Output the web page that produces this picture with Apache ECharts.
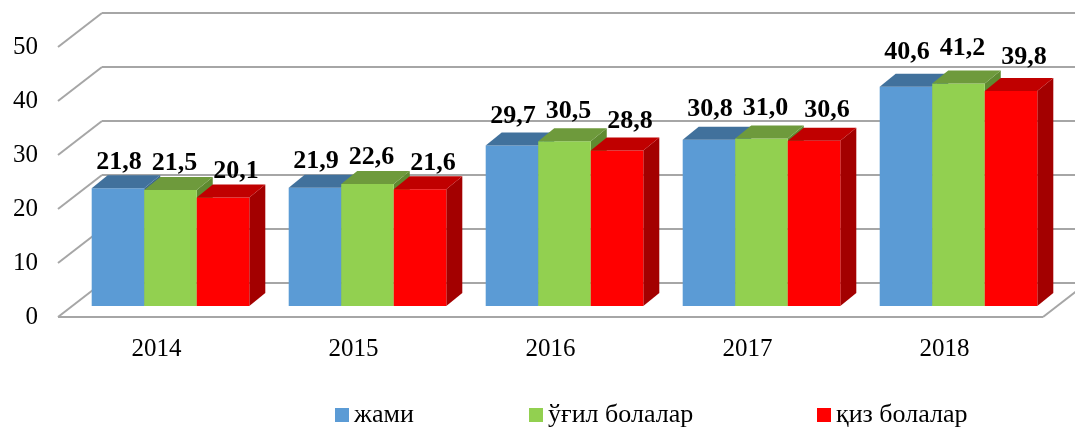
<!DOCTYPE html>
<html><head><meta charset="utf-8">
<script src="https://cdn.jsdelivr.net/npm/echarts@6/dist/echarts.min.js"></script>
<style>html,body{margin:0;padding:0;background:#fff}#c{width:1075px;height:427px}</style>
</head><body><div id="c"></div>
<script>
// ---- data ----
const categories = ['2014', '2015', '2016', '2017', '2018'];
const seriesNames = ['жами', 'ўғил болалар', 'қиз болалар'];
const jami = [21.8, 21.9, 29.7, 30.8, 40.6];
const ugil = [21.5, 22.6, 30.5, 31.0, 41.2];
const qiz  = [20.1, 21.6, 28.8, 30.6, 39.8];
const yTicks = [0, 10, 20, 30, 40, 50];

// ---- styling / pseudo-3D geometry ----
const FONT = '"Liberation Serif", "Times New Roman", serif';
const WALL_DX = 44, WALL_DY = -34;     // full depth of the chart box
const FRONT_DX = 14, FRONT_DY = -11;   // bar front plane offset
const BAR_DX = 16, BAR_DY = -13;       // bar depth
const GRID_COLOR = '#a6a6a6';
const palettes = [
  { front: '#5b9bd5', top: '#41719c', side: '#3a6690', labelDx: 1 },
  { front: '#92d050', top: '#6e9a3c', side: '#5f8a30', labelDx: 4 },
  { front: '#ff0000', top: '#c00000', side: '#a30000', labelDx: 13 }
];
const fmt = v => v.toFixed(1).replace('.', ',');

function barRender(s) {
  const pal = palettes[s];
  return function (params, api) {
    const ci = api.value(0), v = api.value(1);
    const band = api.size([1, 0])[0];
    const base = api.coord([ci, 0]);
    const top = api.coord([ci, v]);
    const bw = band * 0.8 / 3;
    const x0 = base[0] - band * 0.4 + s * bw + FRONT_DX;
    const x1 = x0 + bw;
    const yb = base[1] + FRONT_DY, yt = top[1] + FRONT_DY;
    const h = yb - yt;
    return {
      type: 'group',
      children: [
        { type: 'polygon', shape: { points: [[x1, yt], [x1, yb], [x1 + BAR_DX, yb + BAR_DY], [x1 + BAR_DX, yt + BAR_DY]] },
          style: { fill: pal.side } },
        { type: 'rect', shape: { x: x0, y: yt, width: bw, height: h }, style: { fill: pal.front } },
        { type: 'polygon', shape: { points: [[x0, yt], [x1, yt], [x1 + BAR_DX, yt + BAR_DY], [x0 + BAR_DX, yt + BAR_DY]] },
          style: { fill: pal.top } },
        { type: 'text', x: (x0 + x1) / 2 + pal.labelDx, y: yt - (17 + 0.08 * h),
          style: { text: fmt(v), fill: '#000', font: 'bold 26px ' + FONT, align: 'center', verticalAlign: 'middle' } }
      ]
    };
  };
}

function gridRender(params, api) {
  const v = api.value(1);
  const band = api.size([1, 0])[0];
  const p0 = api.coord([0, v]);
  const pN = api.coord([categories.length - 1, v]);
  const left = p0[0] - band / 2, right = pN[0] + band / 2, y = p0[1];
  const ls = { stroke: GRID_COLOR, lineWidth: 2 };
  const ch = [
    { type: 'line', shape: { x1: left, y1: y, x2: left + WALL_DX, y2: y + WALL_DY }, style: ls },
    { type: 'line', shape: { x1: left + WALL_DX, y1: y + WALL_DY, x2: right + WALL_DX, y2: y + WALL_DY }, style: ls }
  ];
  if (v === 0) {
    ch.push({ type: 'line', shape: { x1: left, y1: y, x2: right, y2: y }, style: ls });
    ch.push({ type: 'line', shape: { x1: right, y1: y, x2: right + WALL_DX, y2: y + WALL_DY }, style: ls });
  }
  return { type: 'group', children: ch };
}

const seriesData = [jami, ugil, qiz];
const chart = echarts.init(document.getElementById('c'), null, { renderer: 'canvas' });
const legendLefts = [335, 529, 817];
chart.setOption({
  animation: false,
  backgroundColor: '#fff',
  grid: { left: 58, right: 32, top: 47, bottom: 110, containLabel: false },
  xAxis: {
    type: 'category', data: categories,
    axisLine: { show: false }, axisTick: { show: false }, splitLine: { show: false },
    axisLabel: { color: '#000', fontFamily: FONT, fontSize: 25, margin: 20 }
  },
  yAxis: {
    type: 'value', min: 0, max: 50, interval: 10,
    axisLine: { show: false }, axisTick: { show: false }, splitLine: { show: false },
    axisLabel: { color: '#000', fontFamily: FONT, fontSize: 25, margin: 20 }
  },
  legend: seriesNames.map((n, i) => ({
    data: [n], left: legendLefts[i], top: 402, icon: 'rect', itemWidth: 14, itemHeight: 14,
    padding: 0, textStyle: { color: '#000', fontFamily: FONT, fontSize: 26 }, selectedMode: false
  })),
  series: [
    { type: 'custom', name: 'grid', renderItem: gridRender, data: yTicks.map(v => [0, v]), z: 1, silent: true }
  ].concat(seriesNames.map((n, s) => ({
    type: 'custom', name: n, renderItem: barRender(s), z: 2 + s,
    itemStyle: { color: palettes[s].front },
    data: seriesData[s].map((v, i) => [i, v])
  })))
});
</script>
</body></html>
